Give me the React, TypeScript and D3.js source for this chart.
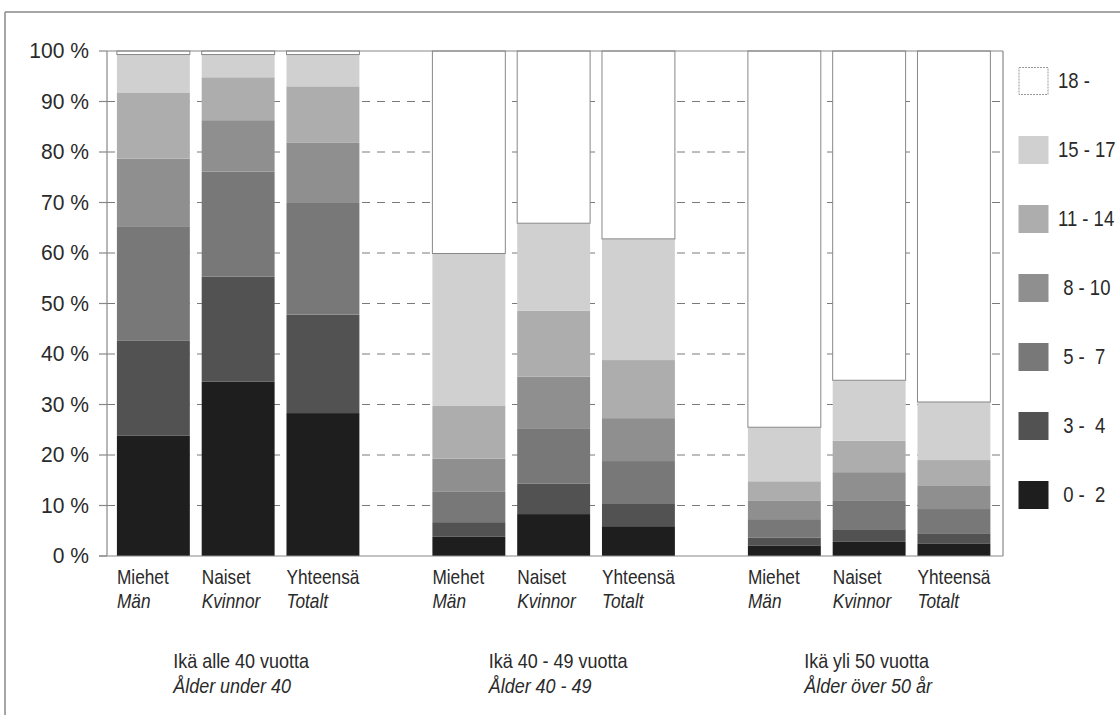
import React from "react";
import * as d3 from "d3";

// ---- data ----
const groups = ["alle40", "40-49", "yli50"];
const groupLabelsFi = ["Ikä alle 40 vuotta", "Ikä 40 - 49 vuotta", "Ikä yli 50 vuotta"];
const groupLabelsSv = ["Ålder under 40", "Ålder 40 - 49", "Ålder över 50 år"];
const sexes = ["M", "N", "Y"];
const sexLabelsFi = ["Miehet", "Naiset", "Yhteensä"];
const sexLabelsSv = ["Män", "Kvinnor", "Totalt"];

const bandKeys = ["0-2", "3-4", "5-7", "8-10", "11-14", "15-17", "18-"];
const bandLabels = [" 0 -  2", " 3 -  4", " 5 -  7", " 8 - 10", "11 - 14", "15 - 17", "18 -"];
const bandColors = ["#1e1e1e", "#525252", "#787878", "#8f8f8f", "#adadad", "#d0d0d0", "#ffffff"];

// values per bar: [alle40 M,N,Y, 40-49 M,N,Y, yli50 M,N,Y]
const v0_2 = [23.8, 34.5, 28.3, 3.8, 8.3, 5.9, 2.1, 2.8, 2.5];
const v3_4 = [18.8, 20.8, 19.5, 2.9, 6.0, 4.4, 1.5, 2.5, 2.0];
const v5_7 = [22.7, 20.8, 22.1, 6.0, 11.0, 8.5, 3.7, 5.6, 4.8];
const v8_10 = [13.4, 10.2, 12.0, 6.6, 10.2, 8.5, 3.6, 5.7, 4.7];
const v11_14 = [13.1, 8.5, 11.1, 10.4, 13.1, 11.5, 3.9, 6.2, 5.0];
const v15_17 = [7.5, 4.5, 6.3, 30.2, 17.3, 24.0, 10.7, 12.0, 11.5];
const v18 = [0.7, 0.7, 0.7, 40.1, 34.1, 37.2, 74.5, 65.2, 69.5];

const yTicks = [0, 10, 20, 30, 40, 50, 60, 70, 80, 90, 100];

const FONT = "'Liberation Sans', Arial, sans-serif";

function T({ x, y, children, size = 18, anchor = "start", italic = false, sx = 1, sy = 1.15 }: any) {
  return (
    <g transform={`translate(${x},${y}) scale(${sx},${sy})`}>
      <text
        x={0}
        y={0}
        fontSize={size}
        fontFamily={FONT}
        fontStyle={italic ? "italic" : "normal"}
        textAnchor={anchor}
        fill="#2a2a2a"
        style={{ whiteSpace: "pre" }}
      >
        {children}
      </text>
    </g>
  );
}

export default function App() {
  const W = 1120;
  const H = 715;
  const left = 107;
  const right = 1003;
  const top = 51;
  const bottom = 556;

  const seriesVals = [v0_2, v3_4, v5_7, v8_10, v11_14, v15_17, v18];
  const rows = groups.flatMap((g, gi) =>
    sexes.map((s, si) => {
      const idx = gi * 3 + si;
      const r: any = { group: g, sex: s };
      bandKeys.forEach((k, ki) => (r[k] = seriesVals[ki][idx]));
      return r;
    })
  );
  const stacked = d3.stack().keys(bandKeys)(rows as any);

  const y = d3.scaleLinear().domain([0, 100]).range([bottom, top]);
  const xg = d3
    .scaleBand()
    .domain(groups)
    .range([left, right])
    .paddingInner(0.2314)
    .paddingOuter(0.0357)
    .align(0.44);
  const xs = d3.scaleBand().domain(sexes).range([0, xg.bandwidth()]).paddingInner(0.14).paddingOuter(0);

  const legendY = d3
    .scalePoint()
    .domain([...bandKeys].reverse())
    .range([81, 495]);

  return (
    <svg width={W} height={H} style={{ position: "absolute", left: 0, top: 0, background: "#fff" }}>
      {/* outer frame */}
      <line x1={5} x2={W} y1={12} y2={12} stroke="#888" strokeWidth={1.5} />
      <line x1={5} x2={5} y1={12} y2={H} stroke="#888" strokeWidth={1.5} />

      {/* dashed gridlines */}
      {yTicks
        .filter((t) => t > 0 && t < 100)
        .map((t) => (
          <line
            key={"g" + t}
            x1={left}
            x2={right}
            y1={y(t)}
            y2={y(t)}
            stroke="#7a7a7a"
            strokeWidth={1}
            strokeDasharray="8 7"
          />
        ))}

      {/* bars */}
      {stacked.map((layer, li) =>
        layer.map((d: any, i: number) => {
          const row = rows[i];
          const x0 = (xg(row.group) as number) + (xs(row.sex) as number);
          const isTop = bandKeys[li] === "18-";
          return (
            <rect
              key={li + "-" + i}
              x={x0}
              y={y(d[1])}
              width={xs.bandwidth()}
              height={y(d[0]) - y(d[1])}
              fill={bandColors[li]}
              stroke={isTop ? "#888" : "none"}
              strokeWidth={1}
            />
          );
        })
      )}

      {/* plot frame: top, right, axis */}
      <line x1={left} x2={right} y1={top} y2={top} stroke="#888" strokeWidth={1.2} />
      <line x1={right} x2={right} y1={top} y2={bottom} stroke="#888" strokeWidth={1.2} />
      <line x1={left} x2={left} y1={top} y2={bottom} stroke="#888" strokeWidth={1.2} />
      <line x1={left - 8} x2={right} y1={bottom} y2={bottom} stroke="#888" strokeWidth={1.2} />

      {/* y ticks and labels */}
      {yTicks.map((t) => (
        <g key={"t" + t}>
          <line x1={left - 8} x2={left} y1={y(t)} y2={y(t)} stroke="#888" strokeWidth={1.2} />
          <T x={89} y={y(t) + 7} size={19.5} sx={1.08} sy={1.1} anchor="end">
            {t + " %"}
          </T>
        </g>
      ))}

      {/* category labels */}
      {groups.map((g, gi) =>
        sexes.map((s, si) => {
          const x0 = (xg(g) as number) + (xs(s) as number);
          return (
            <g key={"c" + g + s}>
              <T x={x0} y={584} sx={0.96}>{sexLabelsFi[si]}</T>
              <T x={x0} y={608} sx={0.96} italic>
                {sexLabelsSv[si]}
              </T>
            </g>
          );
        })
      )}

      {/* group labels */}
      {groups.map((g, gi) => {
        const cx = (xg(g) as number) + xg.bandwidth() / 2 - 65;
        return (
          <g key={"gl" + g}>
            <T x={cx} y={668}>{groupLabelsFi[gi]}</T>
            <T x={cx} y={693} italic>
              {groupLabelsSv[gi]}
            </T>
          </g>
        );
      })}

      {/* legend */}
      {bandKeys.map((k, ki) => {
        const cy = legendY(k) as number;
        return (
          <g key={"l" + k}>
            <rect
              x={1019}
              y={cy - 13.5}
              width={29}
              height={27}
              fill={bandColors[ki]}
              stroke={k === "18-" ? "#999" : bandColors[ki]}
              strokeDasharray={k === "18-" ? "2 1" : undefined}
              strokeWidth={1}
            />
            <T x={1058} y={cy + 6.5} size={18.5}>
              {bandLabels[ki]}
            </T>
          </g>
        );
      })}
    </svg>
  );
}
